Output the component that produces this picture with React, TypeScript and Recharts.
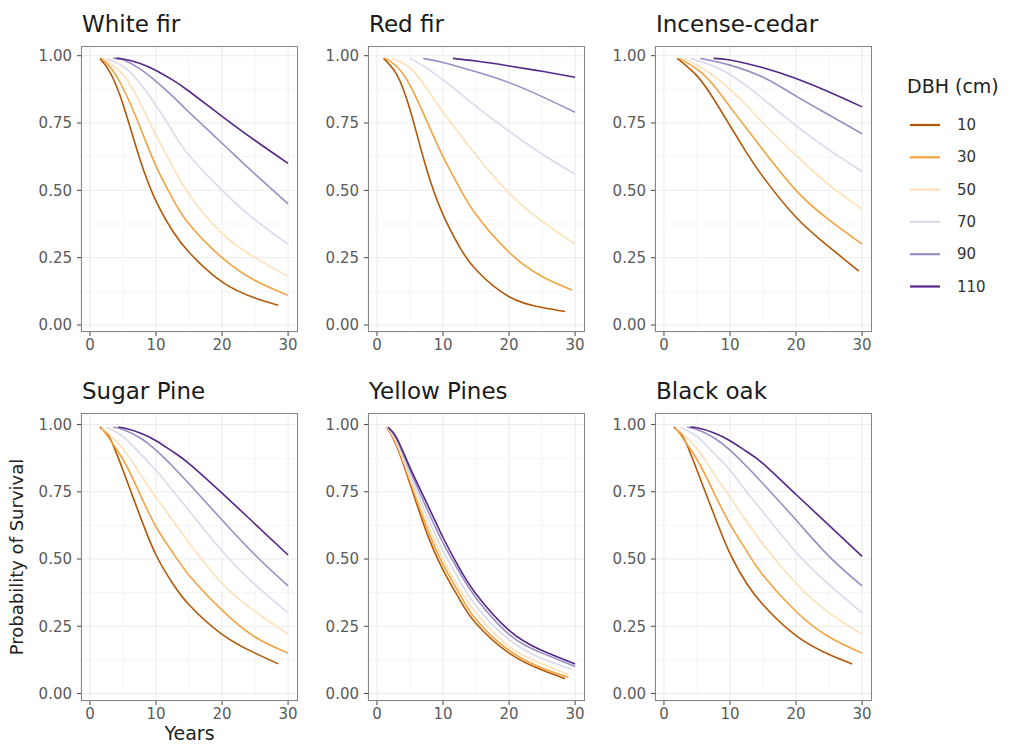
import React from 'react';
import { LineChart, Line, XAxis, YAxis, CartesianGrid, ReferenceLine } from 'recharts';

// ---- data ----
const dbhLabels = ['10', '30', '50', '70', '90', '110'];
const dbhColors = ['#b35806', '#f1a340', '#fee0b6', '#d8daeb', '#998ec3', '#542788'];
const xTicks = [0, 10, 20, 30];
const yTicks = [0, 0.25, 0.5, 0.75, 1];
const xMinor = [5, 15, 25];
const yMinor = [0.125, 0.375, 0.625, 0.875];
const speciesTitles = ['White fir', 'Red fir', 'Incense-cedar', 'Sugar Pine', 'Yellow Pines', 'Black oak'];

type Pt = [number, number];

// each panel: one curve per DBH class, [year, probability of survival]
const whiteFir: Pt[][] = [
  [[1.5, 0.99], [3, 0.94], [5, 0.82], [7.5, 0.62], [10, 0.46], [12.5, 0.35], [15, 0.27], [20, 0.16], [25, 0.1], [28.5, 0.073]],
  [[1.7, 0.99], [3, 0.96], [5, 0.88], [7.5, 0.74], [10, 0.59], [12.5, 0.47], [15, 0.375], [20, 0.25], [25, 0.165], [30, 0.11]],
  [[2, 0.99], [5, 0.93], [7.5, 0.83], [10, 0.705], [12.5, 0.59], [15, 0.485], [20, 0.34], [25, 0.25], [30, 0.18]],
  [[2.5, 0.99], [5, 0.96], [7.5, 0.9], [10, 0.815], [12.5, 0.72], [15, 0.63], [20, 0.5], [25, 0.39], [30, 0.3]],
  [[3.5, 0.99], [5, 0.985], [7.5, 0.952], [10, 0.905], [12.5, 0.85], [15, 0.79], [20, 0.675], [25, 0.56], [30, 0.45]],
  [[4, 0.99], [5, 0.988], [7.5, 0.972], [10, 0.945], [12.5, 0.91], [15, 0.868], [20, 0.775], [25, 0.685], [30, 0.6]],
];
const redFir: Pt[][] = [
  [[1, 0.99], [3, 0.93], [5, 0.8], [7.5, 0.58], [10, 0.41], [12.5, 0.29], [15, 0.205], [20, 0.105], [25, 0.065], [28.5, 0.05]],
  [[1.3, 0.99], [3, 0.96], [5, 0.89], [7.5, 0.76], [10, 0.625], [12.5, 0.51], [15, 0.41], [20, 0.27], [25, 0.18], [29.5, 0.13]],
  [[2.3, 0.99], [5, 0.955], [7.5, 0.88], [10, 0.79], [12.5, 0.71], [15, 0.63], [20, 0.49], [25, 0.385], [30, 0.3]],
  [[5, 0.99], [7.5, 0.955], [10, 0.91], [12.5, 0.862], [15, 0.812], [20, 0.72], [25, 0.635], [30, 0.56]],
  [[7, 0.99], [10, 0.975], [15, 0.94], [20, 0.9], [25, 0.848], [30, 0.79]],
  [[11.5, 0.99], [15, 0.98], [20, 0.962], [25, 0.942], [30, 0.92]],
];
const incenseCedar: Pt[][] = [
  [[2, 0.99], [5, 0.925], [7.5, 0.84], [10, 0.74], [12.5, 0.64], [15, 0.55], [20, 0.4], [25, 0.29], [29.5, 0.2]],
  [[2.3, 0.99], [5, 0.95], [7.5, 0.89], [10, 0.81], [12.5, 0.73], [15, 0.65], [20, 0.5], [25, 0.39], [30, 0.3]],
  [[3, 0.99], [5, 0.965], [7.5, 0.925], [10, 0.875], [12.5, 0.815], [15, 0.75], [20, 0.63], [25, 0.52], [30, 0.43]],
  [[4, 0.99], [7.5, 0.962], [10, 0.93], [12.5, 0.888], [15, 0.84], [20, 0.74], [25, 0.65], [30, 0.57]],
  [[5.5, 0.99], [7.5, 0.98], [10, 0.965], [15, 0.92], [20, 0.85], [25, 0.78], [30, 0.71]],
  [[7.5, 0.99], [10, 0.984], [15, 0.955], [20, 0.915], [25, 0.865], [30, 0.81]],
];
const sugarPine: Pt[][] = [
  [[1.5, 0.99], [3, 0.95], [5, 0.83], [7.5, 0.665], [10, 0.515], [12.5, 0.41], [15, 0.33], [20, 0.22], [25, 0.15], [28.5, 0.11]],
  [[1.7, 0.99], [5, 0.87], [7.5, 0.745], [10, 0.62], [12.5, 0.525], [15, 0.44], [20, 0.31], [25, 0.21], [30, 0.15]],
  [[1.8, 0.99], [5, 0.91], [7.5, 0.82], [10, 0.73], [12.5, 0.645], [15, 0.56], [20, 0.41], [25, 0.305], [30, 0.22]],
  [[2.5, 0.99], [5, 0.955], [7.5, 0.895], [10, 0.83], [12.5, 0.755], [15, 0.68], [20, 0.53], [25, 0.405], [30, 0.3]],
  [[3.5, 0.99], [5, 0.982], [7.5, 0.952], [10, 0.905], [12.5, 0.845], [15, 0.78], [20, 0.645], [25, 0.515], [30, 0.4]],
  [[4.3, 0.99], [5, 0.988], [7.5, 0.97], [10, 0.94], [12.5, 0.9], [15, 0.855], [20, 0.745], [25, 0.63], [30, 0.515]],
];
const yellowPines: Pt[][] = [
  [[1.5, 0.99], [3, 0.92], [5, 0.78], [7.5, 0.6], [10, 0.46], [12.5, 0.35], [15, 0.26], [20, 0.15], [25, 0.087], [28.5, 0.055]],
  [[1.5, 0.99], [3, 0.925], [5, 0.79], [7.5, 0.62], [10, 0.48], [12.5, 0.37], [15, 0.275], [20, 0.16], [25, 0.095], [29, 0.06]],
  [[1.6, 0.99], [3, 0.93], [5, 0.8], [7.5, 0.64], [10, 0.5], [12.5, 0.39], [15, 0.3], [20, 0.175], [25, 0.11], [29, 0.07]],
  [[1.6, 0.99], [3, 0.94], [5, 0.815], [7.5, 0.665], [10, 0.53], [12.5, 0.42], [15, 0.325], [20, 0.2], [25, 0.13], [29.5, 0.09]],
  [[1.7, 0.99], [3, 0.945], [5, 0.83], [7.5, 0.69], [10, 0.56], [12.5, 0.45], [15, 0.355], [20, 0.22], [25, 0.15], [30, 0.1]],
  [[1.7, 0.99], [3, 0.95], [5, 0.84], [7.5, 0.71], [10, 0.58], [12.5, 0.465], [15, 0.37], [20, 0.235], [25, 0.16], [30, 0.11]],
];
const blackOak: Pt[][] = [
  [[1.5, 0.99], [3, 0.95], [5, 0.83], [7.5, 0.67], [10, 0.52], [12.5, 0.41], [15, 0.33], [20, 0.215], [25, 0.145], [28.5, 0.11]],
  [[1.7, 0.99], [5, 0.87], [7.5, 0.75], [10, 0.63], [12.5, 0.53], [15, 0.44], [20, 0.305], [25, 0.21], [30, 0.15]],
  [[1.8, 0.99], [5, 0.91], [7.5, 0.82], [10, 0.73], [12.5, 0.64], [15, 0.555], [20, 0.41], [25, 0.3], [30, 0.22]],
  [[2.5, 0.99], [5, 0.955], [7.5, 0.895], [10, 0.83], [12.5, 0.75], [15, 0.675], [20, 0.525], [25, 0.405], [30, 0.3]],
  [[3.5, 0.99], [5, 0.982], [7.5, 0.952], [10, 0.905], [12.5, 0.845], [15, 0.78], [20, 0.645], [25, 0.51], [30, 0.4]],
  [[4, 0.99], [5, 0.988], [7.5, 0.97], [10, 0.94], [12.5, 0.9], [15, 0.855], [20, 0.74], [25, 0.625], [30, 0.51]],
];
const speciesCurves = [whiteFir, redFir, incenseCedar, sugarPine, yellowPines, blackOak];

// ---- layout ----
const FONT = "'DejaVu Sans', sans-serif";
const PLOT_W = 217;
const COL_LEFT = [81, 368, 655];
const ROW_TOP = [46, 413];
const ROW_H = [286, 288];
const ROW_YDOMAIN: [number, number][] = [[-0.026, 1.036], [-0.028, 1.043]];
const X_DOMAIN: [number, number] = [-1.36, 31.5];
const YW = 60;
const XH = 30;

function Panel({ curves, left, top, h, yDomain }: { curves: Pt[][]; left: number; top: number; h: number; yDomain: [number, number] }) {
  return (
    <div style={{ position: 'absolute', left: left - YW, top }}>
      <LineChart width={YW + PLOT_W} height={h + XH} margin={{ top: 0, right: 0, bottom: 0, left: 0 }}>
        <CartesianGrid stroke="#ebebeb" strokeWidth={1} />
        {xMinor.map((v) => (
          <ReferenceLine key={'xm' + v} x={v} stroke="#f5f5f5" strokeWidth={1} />
        ))}
        {yMinor.map((v) => (
          <ReferenceLine key={'ym' + v} y={v} stroke="#f5f5f5" strokeWidth={1} />
        ))}
        <XAxis
          dataKey="x"
          type="number"
          domain={X_DOMAIN}
          ticks={xTicks}
          interval={0}
          allowDataOverflow
          axisLine={false}
          tickLine={{ stroke: '#444' }}
          tickSize={4}
          tickMargin={3}
          height={XH}
          tick={{ fill: '#5a5a5a', fontSize: 15, fontFamily: FONT }}
        />
        <YAxis
          type="number"
          domain={yDomain}
          ticks={yTicks}
          interval={0}
          allowDataOverflow
          axisLine={false}
          tickLine={{ stroke: '#444' }}
          tickSize={4}
          tickMargin={5}
          width={YW}
          tickFormatter={(v: number) => v.toFixed(2)}
          tick={{ fill: '#5a5a5a', fontSize: 15, fontFamily: FONT }}
        />
        {curves.map((c, i) => (
          <Line
            key={dbhLabels[i]}
            data={c.map(([x, y]) => ({ x, y }))}
            dataKey="y"
            type="natural"
            stroke={dbhColors[i]}
            strokeWidth={1.6}
            dot={false}
            activeDot={false}
            isAnimationActive={false}
          />
        ))}
      </LineChart>
    </div>
  );
}

export default function App() {
  const panels = speciesCurves.map((curves, i) => {
    const row = Math.floor(i / 3);
    const col = i % 3;
    return { curves, title: speciesTitles[i], left: COL_LEFT[col], top: ROW_TOP[row], h: ROW_H[row], yDomain: ROW_YDOMAIN[row] };
  });
  return (
    <div style={{ position: 'absolute', left: 0, top: 0, width: 1017, height: 749, background: '#fff', fontFamily: FONT, overflow: 'hidden' }}>
      {panels.map((p, i) => (
        <Panel key={i} curves={p.curves} left={p.left} top={p.top} h={p.h} yDomain={p.yDomain} />
      ))}
      <svg width={1017} height={749} style={{ position: 'absolute', left: 0, top: 0, pointerEvents: 'none' }} fontFamily={FONT}>
        {panels.map((p, i) => (
          <g key={i}>
            <rect x={p.left + 0.5} y={p.top + 0.5} width={PLOT_W - 1} height={p.h - 1} fill="none" stroke="#858585" strokeWidth={1} />
            <text x={p.left + 1} y={p.top - 14} fontSize={23} fill="#1a1a1a">{p.title}</text>
          </g>
        ))}
        <text transform="translate(16,557) rotate(-90)" textAnchor="middle" dominantBaseline="central" fontSize={18} fill="#222">
          Probability of Survival
        </text>
        <text x={189.5} y={740} textAnchor="middle" fontSize={19} fill="#222">Years</text>
        <text x={907} y={93} fontSize={19} fill="#222">DBH (cm)</text>
        {dbhLabels.map((l, i) => (
          <g key={l}>
            <line x1={910} x2={940} y1={125 + i * 32.3} y2={125 + i * 32.3} stroke={dbhColors[i]} strokeWidth={2.2} />
            <text x={957} y={125 + i * 32.3} dominantBaseline="central" fontSize={15} fill="#333">{l}</text>
          </g>
        ))}
      </svg>
    </div>
  );
}
